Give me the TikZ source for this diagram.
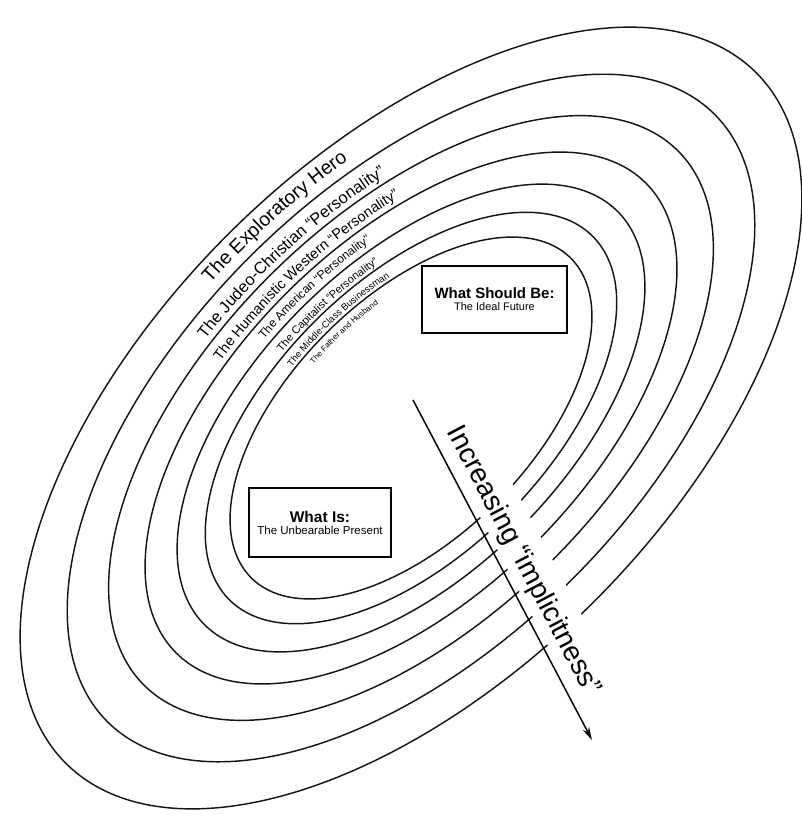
\documentclass[tikz,border=0pt]{standalone}
\usepackage{fontspec}
\setmainfont{Liberation Sans}
\usetikzlibrary{decorations.text,arrows.meta,calc}
\begin{document}
\begin{tikzpicture}[x=1pt,y=1pt,
  ell/.style={line width=1.45pt, black!92},
  box/.style={draw, line width=1.7pt, inner sep=0pt, align=center},
  arrowline/.style={line width=1.5pt, -{Stealth[length=13pt,width=7pt]}}
]
\def\ecx{411}\def\ecy{-418}\def\ea{226}\def\eb{120}
\fill[white] (0,0) rectangle (801,-816);
\useasboundingbox (0,0) rectangle (801,-816);

% nested ellipses
\foreach \k in {0,...,6}{
  \pgfmathsetmacro{\escale}{1.137^\k}
  \draw[ell] plot[smooth cycle, samples=144, domain=0:357.5]
    ({\ecx+\escale*(\ea*cos(\x)-\eb*sin(\x))*0.7071},{\ecy+\escale*(\ea*cos(\x)+\eb*sin(\x))*0.7071});
}

% arrow end points
\coordinate (arrS) at (413,-400);
\coordinate (arrE) at (592,-740);

% gap in the ellipses beside the arrow
\fill[white] ($(arrS)!5pt!90:(arrE)$) -- ($(arrS)!49pt!90:(arrE)$) -- ($(arrE)!49pt!-90:(arrS)$) -- ($(arrE)!5pt!-90:(arrS)$) -- cycle;

% labels along the ellipses
\path[decorate, decoration={text along path, text align=center, text={|\fontsize{19.5}{19.5}\selectfont|The Exploratory Hero}}]
  plot[samples=81, domain=-40:40] ({\ecx+1.985*(\ea*cos(83-\x)-\eb*sin(83-\x))*0.7071},{\ecy+1.985*(\ea*cos(83-\x)+\eb*sin(83-\x))*0.7071});
\path[decorate, decoration={text along path, text align=center, text={|\fontsize{16.5}{16.5}\selectfont|The Judeo-Christian “Personality”}}]
  plot[samples=91, domain=-45:45] ({\ecx+1.72*(\ea*cos(84-\x)-\eb*sin(84-\x))*0.7071},{\ecy+1.72*(\ea*cos(84-\x)+\eb*sin(84-\x))*0.7071});
\path[decorate, decoration={text along path, text align=center, text={|\fontsize{14.5}{14.5}\selectfont|The Humanistic Western “Personality”}}]
  plot[samples=101, domain=-50:50] ({\ecx+1.515*(\ea*cos(84-\x)-\eb*sin(84-\x))*0.7071},{\ecy+1.515*(\ea*cos(84-\x)+\eb*sin(84-\x))*0.7071});
\path[decorate, decoration={text along path, text align=center, text={|\fontsize{12}{12}\selectfont|The American “Personality”}}]
  plot[samples=101, domain=-50:50] ({\ecx+1.345*(\ea*cos(84-\x)-\eb*sin(84-\x))*0.7071},{\ecy+1.345*(\ea*cos(84-\x)+\eb*sin(84-\x))*0.7071});
\path[decorate, decoration={text along path, text align=center, text={|\fontsize{11}{11}\selectfont|The Capitalist “Personality”}}]
  plot[samples=101, domain=-50:50] ({\ecx+1.165*(\ea*cos(84-\x)-\eb*sin(84-\x))*0.7071},{\ecy+1.165*(\ea*cos(84-\x)+\eb*sin(84-\x))*0.7071});
\path[decorate, decoration={text along path, text align=center, text={|\fontsize{9.5}{9.5}\selectfont|The Middle-Class Businessman}}]
  plot[samples=101, domain=-50:50] ({\ecx+1.025*(\ea*cos(84-\x)-\eb*sin(84-\x))*0.7071},{\ecy+1.025*(\ea*cos(84-\x)+\eb*sin(84-\x))*0.7071});
\path[decorate, decoration={text along path, text align=center, text={|\fontsize{8}{8}\selectfont|The Father and Husband}}]
  plot[samples=101, domain=-50:50] ({\ecx+0.90*(\ea*cos(85-\x)-\eb*sin(85-\x))*0.7071},{\ecy+0.90*(\ea*cos(85-\x)+\eb*sin(85-\x))*0.7071});

% arrow and its label
\draw[arrowline] (arrS) -- (arrE);
\node[rotate=-62.24, inner sep=0pt, font=\fontsize{28}{28}\selectfont] (implab) at (523,-561) {Increasing “implicitness”};

% boxes
\node[box, minimum width=145pt, minimum height=67pt] (should) at (494.5,-299.5)
  {{\fontsize{15}{19}\selectfont\bfseries What Should Be:}\\{\fontsize{11}{13}\selectfont The Ideal Future}};
\node[box, minimum width=142pt, minimum height=69pt] (whatis) at (320,-522.5)
  {{\fontsize{15.5}{19}\selectfont\bfseries What Is:}\\{\fontsize{11.5}{13}\selectfont The Unbearable Present}};
\end{tikzpicture}
\end{document}
